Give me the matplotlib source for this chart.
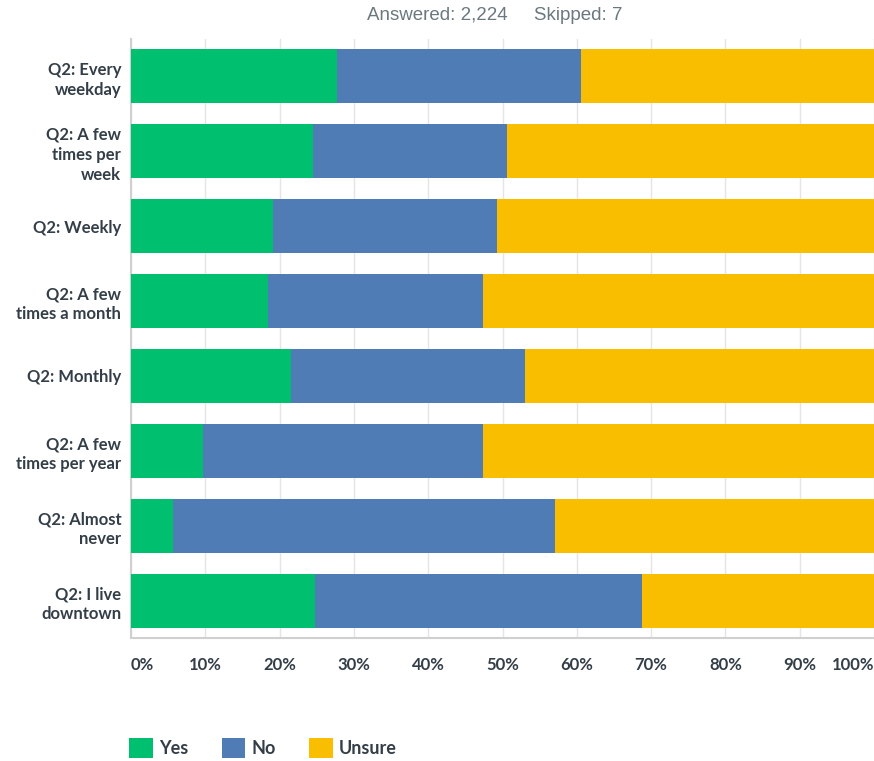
import matplotlib.pyplot as plt
import numpy as np

categories = ["Q2: Every\nweekday", "Q2: A few\ntimes per\nweek", "Q2: Weekly",
              "Q2: A few\ntimes a month", "Q2: Monthly", "Q2: A few\ntimes per year",
              "Q2: Almost\nnever", "Q2: I live\ndowntown"]
yes = [27.7, 24.5, 19.1, 18.4, 21.5, 9.7, 5.7, 24.8]
no = [32.9, 26.1, 30.2, 29.0, 31.5, 37.7, 51.4, 44.0]
unsure = [100 - a - b for a, b in zip(yes, no)]
series = {"Yes": yes, "No": no, "Unsure": unsure}
colors = {"Yes": "#00BF6F", "No": "#507CB6", "Unsure": "#F9BE00"}
ticks = [0, 10, 20, 30, 40, 50, 60, 70, 80, 90, 100]

text_col = "#333E48"
fig = plt.figure(figsize=(8.74, 7.61), dpi=100)
ax = fig.add_axes([131 / 874, 123 / 761, 743 / 874, 599 / 761])

y = np.arange(len(categories))
left = np.zeros(len(categories))
for name, vals in series.items():
    ax.barh(y, vals, left=left, height=0.72, color=colors[name], label=name, zorder=3)
    left += np.array(vals)

ax.set_xlim(0, 100)
ax.set_ylim(len(categories) - 0.5, -0.5)
ax.set_yticks(y)
ax.set_yticklabels(categories, fontsize=12, fontweight="bold", color=text_col,
                   family="Lato", linespacing=1.3)
ax.tick_params(axis="y", length=0, pad=7)
ax.set_xticks(ticks)
ax.set_xticklabels([f"{t}%" for t in ticks], fontsize=12, fontweight="bold",
                   color=text_col, family="Lato")
ax.tick_params(axis="x", length=0, pad=14)
lbls = ax.get_xticklabels()
lbls[0].set_ha("left")
lbls[-1].set_ha("right")
ax.grid(axis="x", color="#E5E5E5", linewidth=1, zorder=0)
for s in ["top", "right"]:
    ax.spines[s].set_visible(False)
ax.spines["left"].set_color("#D0D0D0")
ax.spines["bottom"].set_color("#D0D0D0")
ax.spines["left"].set_linewidth(1.5)
ax.spines["bottom"].set_linewidth(1.5)

fig.text(495 / 874, 1 - 16 / 761, "Answered: 2,224     Skipped: 7", ha="center", va="center",
         fontsize=13.5, color="#6B787F", family="Liberation Sans")

leg = fig.legend(loc="center left", bbox_to_anchor=(113 / 874, 1 - 748 / 761), ncol=3,
                 frameon=False, handlelength=1.3, handleheight=1.3, columnspacing=1.85,
                 handletextpad=0.35, prop={"family": "Lato", "weight": "bold", "size": 13})
for t in leg.get_texts():
    t.set_color(text_col)

fig.savefig("out.png", dpi=100)
